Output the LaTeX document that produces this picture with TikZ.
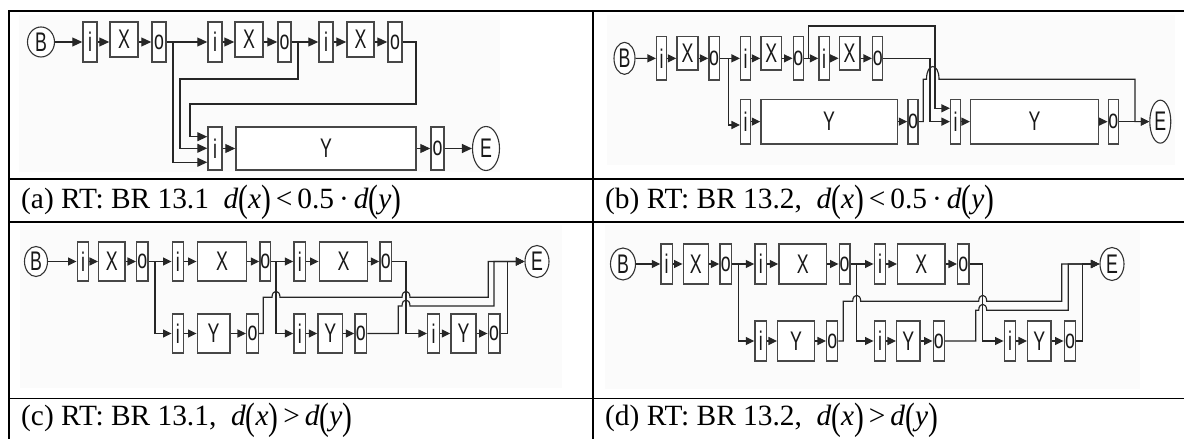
\documentclass[tikz,border=0pt]{standalone}
\usepackage{fontspec}
\usepackage{graphicx}
\setmainfont{Liberation Serif}
\newfontfamily\dfont[FakeStretch=0.66]{Liberation Sans}
\usetikzlibrary{arrows.meta,shapes.geometric}
\newcommand\bigp[1]{\raisebox{-0.12em}{\scalebox{1}[1.3]{#1}}}
\newcommand\bx[6]{\node[box, minimum width={(#3-#2)*1bp}, minimum height={(#5-#4)*1bp}] (#1) at ({(#2+#3)/2},{(#4+#5)/2}) {#6};}
\begin{document}
\begin{tikzpicture}[x=1bp,y=-1bp,
  box/.style={rectangle, draw=black!72, line width=1.5bp, fill=white, inner sep=0pt,
              font=\dfont\fontsize{27}{27}\selectfont, text=black!90},
  circ/.style={ellipse, draw=black!80, line width=1.1bp, fill=white, inner sep=0pt,
              font=\dfont\fontsize{27}{27}\selectfont, text=black!90},
  wire/.style={draw=black!85, line width=1.15bp},
  arr/.style={wire, -{Triangle[length=8.5bp,width=8bp]}},
  arrA/.style={wire, -{Triangle[length=10bp,width=9bp]}},
  jump/.style={to path={.. controls ([yshift=8bp]\tikztostart) and ([yshift=8bp]\tikztotarget) .. (\tikztotarget)}},
  jumpb/.style={to path={.. controls ([yshift=17bp]\tikztostart) and ([yshift=17bp]\tikztotarget) .. (\tikztotarget)}},
  tbl/.style={draw=black, line width=1.8bp},
  captext/.style={anchor=base west, inner sep=0pt, font=\fontsize{29.5}{34}\selectfont},
  bg/.style={fill=black!1.5}
]
\useasboundingbox (0,0) rectangle (1184,439);
\fill[white] (0,0) rectangle (1184,439);
% image backgrounds
\fill[bg] (19,15) rectangle (500,172);
\fill[bg] (607,15) rectangle (1175,165);
\fill[bg] (20,225) rectangle (562,388);
\fill[bg] (605,225) rectangle (1140,389);

% ---------------- panel (a)
\node[circ, minimum width=27bp, minimum height=30bp] (aB) at (41,42) {B};
\bx{ai1}{83}{97}{22}{62}{i}
\bx{aX1}{110}{138}{22}{57}{X}
\bx{ao1}{152}{166}{22}{62}{o}
\bx{ai2}{208}{222}{22}{62}{i}
\bx{aX2}{235}{263}{22}{57}{X}
\bx{ao2}{278}{291}{22}{62}{o}
\bx{ai3}{319}{333}{22}{62}{i}
\bx{aX3}{347}{374}{22}{57}{X}
\bx{ao3}{388}{402}{22}{62}{o}
\bx{aiY}{208}{222}{127}{170}{i}
\bx{aY}{236}{416}{127}{170}{Y}
\bx{aoY}{431}{444}{127}{170}{o}
\node[circ, minimum width=27bp, minimum height=44bp] (aE) at (486,148.5) {E};
\draw[arrA] (aB.east) -- (ai1.west);
\draw[arrA] (ai1.east) -- (ai1.east -| aX1.west);
\draw[arrA] (aX1.east |- ao1.west) -- (ao1.west);
\draw[arrA] (ao1.east) -- (ai2.west);
\draw[arrA] (ai2.east) -- (ai2.east -| aX2.west);
\draw[arrA] (aX2.east |- ao2.west) -- (ao2.west);
\draw[arrA] (ao2.east) -- (ai3.west);
\draw[arrA] (ai3.east) -- (ai3.east -| aX3.west);
\draw[arrA] (aX3.east |- ao3.west) -- (ao3.west);
\draw[arrA] (ao1.east) -| (173,162.3) -- (aiY.west |- 0,162.3);
\draw[arrA] (ao2.east) -| (298,79) -| (180,148.3) -- (aiY.west |- 0,148.3);
\draw[arrA] (ao3.east) -| (416,104) -| (190,136.7) -- (aiY.west |- 0,136.7);
\draw[arrA] (aiY.east) -- (aY.west);
\draw[arrA] (aY.east) -- (aoY.west);
\draw[arrA] (aoY.east) -- (aE.west);

% ---------------- panel (b)
\node[circ, minimum width=21bp, minimum height=32bp] (bB) at (624.5,58.35) {B};
\bx{bi1}{656.7}{666.7}{36.7}{80}{i}
\bx{bX1}{677}{698}{36.7}{70}{X}
\bx{bo1}{709}{719.3}{36.7}{80}{o}
\bx{bi2}{740.7}{750.7}{36.7}{80}{i}
\bx{bX2}{761}{781.7}{36.7}{70}{X}
\bx{bo2}{793.3}{803.3}{36.7}{80}{o}
\bx{bi3}{819}{829.3}{36.7}{80}{i}
\bx{bX3}{839.3}{860}{36.7}{70}{X}
\bx{bo3}{872.7}{882.7}{36.7}{80}{o}
\bx{biY1}{740.7}{750.7}{99.3}{144}{i}
\bx{bY1}{761}{897.3}{99.3}{144}{Y}
\bx{boY1}{908}{918}{99.3}{144}{o}
\bx{biY2}{950.7}{960.7}{99.3}{144}{i}
\bx{bY2}{970.7}{1098.3}{99.3}{144}{Y}
\bx{boY2}{1108.3}{1118.3}{99.3}{144}{o}
\node[circ, minimum width=21bp, minimum height=43bp] (bE) at (1160.3,121.65) {E};
\draw[arr] (bB.east) -- (bi1.west);
\draw[arr] (bi1.east) -- (bi1.east -| bX1.west);
\draw[arr] (bX1.east |- bo1.west) -- (bo1.west);
\draw[arr] (bo1.east) -- (bi2.west);
\draw[arr] (bi2.east) -- (bi2.east -| bX2.west);
\draw[arr] (bX2.east |- bo2.west) -- (bo2.west);
\draw[arr] (bo2.east) -- (bi3.west);
\draw[arr] (bi3.east) -- (bi3.east -| bX3.west);
\draw[arr] (bX3.east |- bo3.west) -- (bo3.west);
\draw[arr] (bo1.east) -| (728.3,125) -- (biY1.west |- 0,125);
\draw[arr] (bo2.east) -| (808.3,26) -| (935,108.3) -- (biY2.west |- 0,108.3);
\draw[arr] (bo3.east) -| (930,121.65) -- (biY2.west);
\draw[arr] (biY1.east) -- (bY1.west);
\draw[arr] (bY1.east) -- (boY1.west);
\draw[arr] (biY2.east) -- (bY2.west);
\draw[arr] (bY2.east) -- (boY2.west);
\draw[arr] (boY2.east) -- (bE.west);
\draw[arr] (boY1.east) -| (923.3,79.3) -- (926.5,79.3) to[jumpb] (939,79.3) -| (1135,121.65) -- (bE.west);

% ---------------- panel (c)
\node[circ, minimum width=23bp, minimum height=30bp] (cB) at (36,261.5) {B};
\bx{ci1}{77.3}{88.7}{242}{281}{i}
\bx{cX1}{98.7}{125}{242}{281}{X}
\bx{co1}{136.7}{148}{242}{281}{o}
\bx{ci2}{172.3}{183.3}{242}{281}{i}
\bx{cX2}{197.3}{246.7}{242}{281}{X}
\bx{co2}{260}{270.7}{242}{281}{o}
\bx{ci3}{294}{305.5}{242}{281}{i}
\bx{cX3}{319.3}{367.7}{242}{281}{X}
\bx{co3}{380}{391.7}{242}{281}{o}
\bx{ciY1}{172.3}{183.3}{314}{353}{i}
\bx{cY1}{197.3}{230}{314}{353}{Y}
\bx{coY1}{246.7}{258.3}{314}{353}{o}
\bx{ciY2}{294}{305.5}{314}{353}{i}
\bx{cY2}{318}{342.7}{314}{353}{Y}
\bx{coY2}{355}{366.7}{314}{353}{o}
\bx{ciY3}{427.7}{439.3}{314}{353}{i}
\bx{cY3}{451}{476}{314}{353}{Y}
\bx{coY3}{488.3}{500}{314}{353}{o}
\node[circ, minimum width=24bp, minimum height=32bp] (cE) at (537,261.5) {E};
\draw[arr] (cB.east) -- (ci1.west);
\draw[arr] (ci1.east) -- (cX1.west);
\draw[arr] (cX1.east) -- (co1.west);
\draw[arr] (co1.east) -- (ci2.west);
\draw[arr] (ci2.east) -- (cX2.west);
\draw[arr] (cX2.east) -- (co2.west);
\draw[arr] (co2.east) -- (ci3.west);
\draw[arr] (ci3.east) -- (cX3.west);
\draw[arr] (cX3.east) -- (co3.west);
\draw[arr] (co1.east) -| (155,333.5) -- (ciY1.west);
\draw[arr] (co2.east) -| (276,333.5) -- (ciY2.west);
\draw[arr] (co3.east) -| (406,333.5) -- (ciY3.west);
\draw[arr] (ciY1.east) -- (cY1.west);
\draw[arr] (cY1.east) -- (coY1.west);
\draw[arr] (ciY2.east) -- (cY2.west);
\draw[arr] (cY2.east) -- (coY2.west);
\draw[arr] (ciY3.east) -- (cY3.west);
\draw[arr] (cY3.east) -- (coY3.west);
\draw[arr] (coY1.east) -| (263.3,297.3) -- (272,297.3) to[jump] (280,297.3) -- (402,297.3) to[jump] (410,297.3) -| (488.3,261.5) -- (cE.west);
\draw[arr] (coY2.east) -| (398.3,306) -- (402,306) to[jump] (410,306) -| (494,261.5) -- (cE.west);
\draw[arr] (coY3.east) -| (507.3,261.5) -- (cE.west);

% ---------------- panel (d)
\node[circ, minimum width=25bp, minimum height=32bp] (dB) at (623,264) {B};
\bx{di1}{661}{672.3}{244}{284}{i}
\bx{dX1}{683.3}{708.3}{244}{284}{X}
\bx{do1}{720}{731.7}{244}{284}{o}
\bx{di2}{755}{766.7}{244}{284}{i}
\bx{dX2}{779}{826.7}{244}{284}{X}
\bx{do2}{839.3}{850}{244}{284}{o}
\bx{di3}{874.3}{885.7}{244}{284}{i}
\bx{dX3}{897.7}{945}{244}{284}{X}
\bx{do3}{957.7}{969}{244}{284}{o}
\bx{diY1}{755}{766.7}{321}{361}{i}
\bx{dY1}{777.7}{814.3}{321}{361}{Y}
\bx{doY1}{826.7}{837.7}{321}{361}{o}
\bx{diY2}{874.3}{885.7}{321}{361}{i}
\bx{dY2}{896.7}{920}{321}{361}{Y}
\bx{doY2}{933.3}{944.3}{321}{361}{o}
\bx{diY3}{1004.3}{1015.7}{321}{361}{i}
\bx{dY3}{1027.7}{1051}{321}{361}{Y}
\bx{doY3}{1064.3}{1075.7}{321}{361}{o}
\node[circ, minimum width=24bp, minimum height=33bp] (dE) at (1112,264) {E};
\draw[arr] (dB.east) -- (di1.west);
\draw[arr] (di1.east) -- (dX1.west);
\draw[arr] (dX1.east) -- (do1.west);
\draw[arr] (do1.east) -- (di2.west);
\draw[arr] (di2.east) -- (dX2.west);
\draw[arr] (dX2.east) -- (do2.west);
\draw[arr] (do2.east) -- (di3.west);
\draw[arr] (di3.east) -- (dX3.west);
\draw[arr] (dX3.east) -- (do3.west);
\draw[arr] (do1.east) -| (738.3,341) -- (diY1.west);
\draw[arr] (do2.east) -| (856.7,341) -- (diY2.west);
\draw[arr] (do3.east) -| (982.7,341) -- (diY3.west);
\draw[arr] (diY1.east) -- (dY1.west);
\draw[arr] (dY1.east) -- (doY1.west);
\draw[arr] (diY2.east) -- (dY2.west);
\draw[arr] (dY2.east) -- (doY2.west);
\draw[arr] (diY3.east) -- (dY3.west);
\draw[arr] (dY3.east) -- (doY3.west);
\draw[arr] (doY1.east) -| (843.3,301.3) -- (852.7,301.3) to[jump] (860.7,301.3) -- (978.7,301.3) to[jump] (986.7,301.3) -| (1061.7,264) -- (dE.west);
\draw[arr] (doY2.east) -| (975.7,310.3) -- (978.7,310.3) to[jump] (986.7,310.3) -| (1068.3,264) -- (dE.west);
\draw[arr] (doY3.east) -| (1082.3,264) -- (dE.west);

% ---------------- table
\draw[tbl] (9,11) -- (1184,11);
\draw[tbl] (9,178.8) -- (1184,178.8);
\draw[tbl] (9,222) -- (1184,222);
\draw[tbl] (9,398.5) -- (1184,398.5);
\draw[tbl] (9,10.1) -- (9,439);
\draw[tbl] (593.3,10.1) -- (593.3,439);

% ---------------- captions
\node[captext] (capa) at (21,208.3) {(a) RT: BR 13.1\ \ \textit{d}\bigp{(}\textit{x}\bigp{)}\,<\,0.5\,·\,\textit{d}\bigp{(}\textit{y}\bigp{)}};
\node[captext] (capb) at (605,208.3) {(b) RT: BR 13.2,\ \ \textit{d}\bigp{(}\textit{x}\bigp{)}\,<\,0.5\,·\,\textit{d}\bigp{(}\textit{y}\bigp{)}};
\node[captext] (capc) at (21,426) {(c) RT: BR 13.1,\ \ \textit{d}\bigp{(}\textit{x}\bigp{)}\,>\,\textit{d}\bigp{(}\textit{y}\bigp{)}};
\node[captext] (capd) at (605,426) {(d) RT: BR 13.2,\ \ \textit{d}\bigp{(}\textit{x}\bigp{)}\,>\,\textit{d}\bigp{(}\textit{y}\bigp{)}};
\end{tikzpicture}
\end{document}
